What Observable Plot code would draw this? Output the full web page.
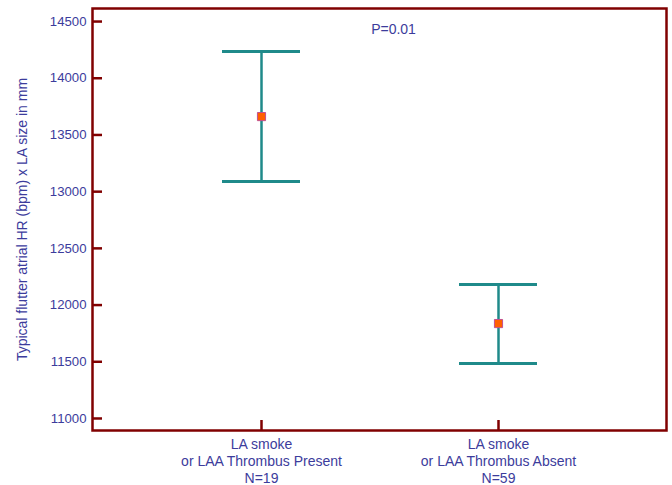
<!DOCTYPE html>
<html>
<head>
<meta charset="utf-8">
<script src="https://cdn.jsdelivr.net/npm/d3@7"></script>
<script src="https://cdn.jsdelivr.net/npm/@observablehq/plot@0.6"></script>
<style>
  html, body { margin: 0; padding: 0; background: #fff; }
</style>
</head>
<body>
<div id="chart"></div>
<script>
const groups = [
  "LA smoke\nor LAA Thrombus Present\nN=19",
  "LA smoke\nor LAA Thrombus Absent\nN=59"
];
const means = [13662, 11837];
const lower = [13089, 11484];
const upper = [14235, 12181];
const yTicks = [11000, 11500, 12000, 12500, 13000, 13500, 14000, 14500];
const yLabel = "Typical flutter atrial HR (bpm) x LA size in mm";
const pText = "P=0.01";

const data = groups.map((g, i) => ({g, mean: means[i], lo: lower[i], hi: upper[i]}));

const textColor = "#3c3c9c";
const frameColor = "#800000";
const barColor = "#1f8a8a";

const chart = Plot.plot({
  width: 672,
  height: 485,
  marginLeft: 92,
  marginRight: 6,
  marginTop: 8,
  marginBottom: 55,
  style: {fontFamily: "Liberation Sans, Arial, sans-serif", fontSize: "13px", background: "#fff"},
  x: {type: "band", domain: groups, paddingInner: 0.672, paddingOuter: 0.542},
  y: {domain: [10894, 14615]},
  marks: [
    Plot.ruleX(data, {x: "g", y1: "lo", y2: "hi", stroke: barColor, strokeWidth: 2.5}),
    Plot.tickY(data, {x: "g", y: "lo", stroke: barColor, strokeWidth: 3}),
    Plot.tickY(data, {x: "g", y: "hi", stroke: barColor, strokeWidth: 3}),
    Plot.dot(data, {x: "g", y: "mean", symbol: "square", r: 4.6, fill: "#ff6000", stroke: "#c05090", strokeWidth: 1}),
    Plot.text([pText], {frameAnchor: "top", lineAnchor: "middle", dx: 14, dy: 21, fill: textColor, fontSize: 14}),
    // inward tick marks
    Plot.ruleY(yTicks, {y: d => d, insetRight: 564, stroke: frameColor, strokeWidth: 2.5}),
    Plot.ruleX(groups, {x: d => d, insetTop: 412, stroke: frameColor, strokeWidth: 2.5}),
    Plot.axisY({ticks: yTicks, tickSize: 0, tickPadding: 6, tickFormat: d => String(d), fill: textColor, fontSize: 13.2,
      label: null}),
    Plot.axisY({ticks: [], tickSize: 0, fill: textColor, fontSize: 14,
      label: yLabel, labelAnchor: "center", labelArrow: "none", labelOffset: 75}),
    Plot.axisX({tickSize: 0, tickPadding: 6, fill: textColor, fontSize: 14, label: null, lineHeight: 1.22}),
    Plot.frame({stroke: frameColor, strokeWidth: 2.5})
  ]
});
document.getElementById("chart").appendChild(chart);
</script>
</body>
</html>
